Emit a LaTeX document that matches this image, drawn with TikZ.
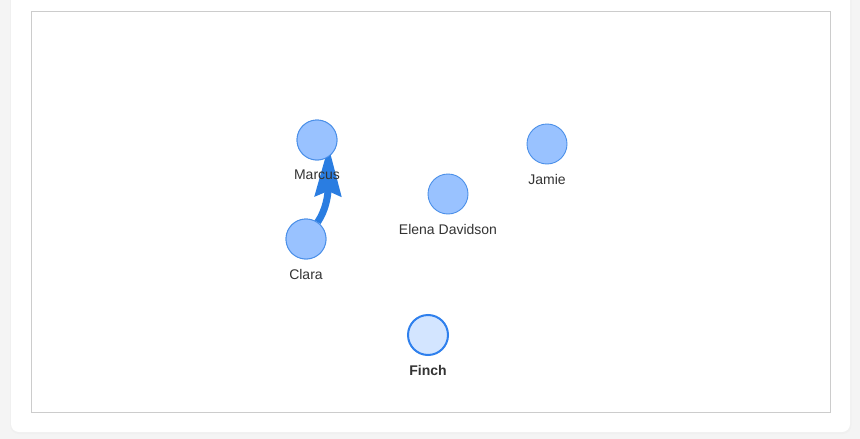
\documentclass[tikz,border=0pt]{standalone}
\usepackage{fontspec}
\setmainfont{Liberation Sans}
\usetikzlibrary{arrows.meta}
\definecolor{pagebg}{HTML}{F4F4F4}
\definecolor{framec}{HTML}{CCCCCC}
\definecolor{nodefill}{HTML}{99C2FF}
\definecolor{nodeline}{HTML}{4A8FE8}
\definecolor{selfill}{HTML}{D3E5FF}
\definecolor{selline}{HTML}{2F80ED}
\definecolor{edgec}{HTML}{2A7DE1}
\definecolor{textc}{HTML}{333333}
\tikzset{
  person/.style={circle, minimum size=40pt, inner sep=0pt, fill=nodefill, draw=nodeline, line width=0.9pt},
  selperson/.style={circle, minimum size=40pt, inner sep=0pt, fill=selfill, draw=selline, line width=2pt},
  lbl/.style={text=textc, font=\fontsize{14pt}{16pt}\selectfont, inner sep=0pt, anchor=center},
  edge/.style={draw=edgec, line width=7pt, -{Stealth[length=50pt, width=26pt, inset=5pt]}}
}
\begin{document}
\begin{tikzpicture}[x=1pt, y=-1pt]
\useasboundingbox (0,0) rectangle (860,439);
\fill[pagebg] (0,0) rectangle (860,439);
\fill[black!6, rounded corners=9pt] (10,-10) rectangle (851.5,434);
\fill[white, rounded corners=8pt] (11,-10) rectangle (850,432);
\draw[framec, line width=1pt] (31.5,11.5) rectangle (830.5,412.5);

\node[person] (marcus) at (317,140) {};
\node[person] (jamie) at (547,144) {};
\node[person] (elena) at (448,194) {};
\node[person] (clara) at (306,239) {};
\node[selperson] (finch) at (428,335) {};

\coordinate (mtip) at (328.5,146);
\path[edge] (clara) .. controls (326,210) and (328,195) .. (mtip);
\node[person] at (marcus) {};
\node[person] at (clara) {};

\node[lbl] (marcuslbl) at (317,175) {Marcus};
\node[lbl] (jamielbl) at (547,179) {Jamie};
\node[lbl] (elenalbl) at (448,229) {Elena Davidson};
\node[lbl] (claralbl) at (306,274) {Clara};
\node[lbl, font=\fontsize{14pt}{16pt}\selectfont\bfseries] (finchlbl) at (428,370) {Finch};
\end{tikzpicture}
\end{document}
